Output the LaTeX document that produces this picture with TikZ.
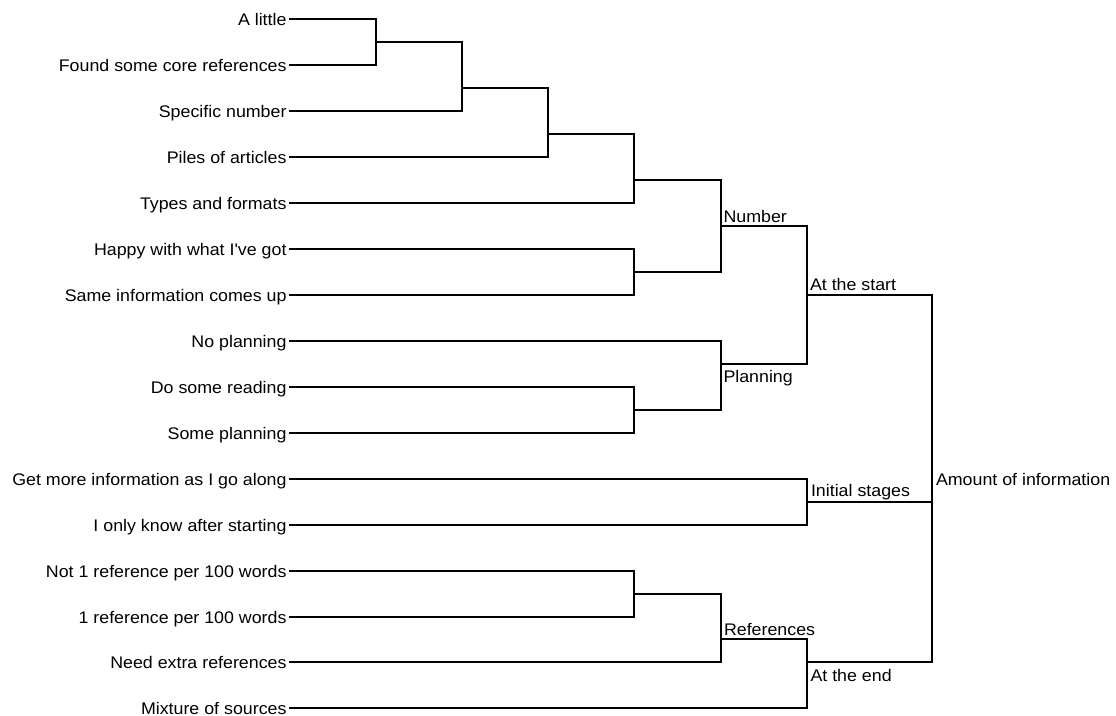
\documentclass[tikz,border=0pt]{standalone}
\usepackage{fontspec}
\usepackage{graphicx}
\setmainfont{Liberation Sans}
\begin{document}
\begin{tikzpicture}[x=1pt,y=-1pt,
  every path/.style={line width=2pt, line join=miter},
  txt/.style={inner sep=0pt, font=\fontsize{16.8}{18}\selectfont},
  leaf/.style={txt, anchor=east, inner xsep=1.5pt, text height=13pt, text depth=0pt},
  clabel/.style={txt, anchor=base west}]
\newcommand{\wtxt}[1]{\scalebox{1.06}[1]{#1}}
\useasboundingbox (0,0) rectangle (1116,715);

% leaves
\node[leaf] (t1)  at (289,19)  {\wtxt{A little}};
\node[leaf] (t2)  at (289,65)  {\wtxt{Found some core references}};
\node[leaf] (t3)  at (289,111) {\wtxt{Specific number}};
\node[leaf] (t4)  at (289,157) {\wtxt{Piles of articles}};
\node[leaf] (t5)  at (289,203) {\wtxt{Types and formats}};
\node[leaf] (t6)  at (289,249) {\wtxt{Happy with what I\textquotesingle ve got}};
\node[leaf] (t7)  at (289,295) {\wtxt{Same information comes up}};
\node[leaf] (t8)  at (289,341) {\wtxt{No planning}};
\node[leaf] (t9)  at (289,387) {\wtxt{Do some reading}};
\node[leaf] (t10) at (289,433) {\wtxt{Some planning}};
\node[leaf] (t11) at (289,479) {\wtxt{Get more information as I go along}};
\node[leaf] (t12) at (289,525) {\wtxt{I only know after starting}};
\node[leaf] (t13) at (289,571) {\wtxt{Not 1 reference per 100 words}};
\node[leaf] (t14) at (289,617) {\wtxt{1 reference per 100 words}};
\node[leaf] (t15) at (289,662) {\wtxt{Need extra references}};
\node[leaf] (t16) at (289,708) {\wtxt{Mixture of sources}};

% merge points
\coordinate (m1) at (376,42);
\coordinate (m2) at (462,88);
\coordinate (m3) at (548,134);
\coordinate (m4) at (634,180);
\coordinate (m5) at (634,272);
\coordinate (num) at (721,226);
\coordinate (m6) at (634,410);
\coordinate (plan) at (721,364);
\coordinate (start) at (807,295);
\coordinate (init) at (807,502);
\coordinate (m7) at (634,594);
\coordinate (refs) at (721,639);
\coordinate (fin) at (807,662);
\coordinate (root) at (932,480);

% brackets
\draw (t1.east) -| (m1) |- (t2.east);
\draw (m1) -| (m2) |- (t3.east);
\draw (m2) -| (m3) |- (t4.east);
\draw (m3) -| (m4) |- (t5.east);
\draw (t6.east) -| (m5) |- (t7.east);
\draw (m4) -| (num) |- (m5);
\draw (t9.east) -| (m6) |- (t10.east);
\draw (t8.east) -| (plan) |- (m6);
\draw (num) -| (start) |- (plan);
\draw (t11.east) -| (init) |- (t12.east);
\draw (t13.east) -| (m7) |- (t14.east);
\draw (m7) -| (refs) |- (t15.east);
\draw (refs) -| (fin) |- (t16.east);
\draw (start) -| (root) |- (fin);
\draw (init) -- (init -| root);

% cluster labels
\node[clabel] (lnum)   at (722.5,222.3) {\wtxt{Number}};
\node[clabel] (lstart) at (809,290)     {\wtxt{At the start}};
\node[clabel] (lplan)  at (722.5,382.7) {\wtxt{Planning}};
\node[clabel] (linit)  at (810,496.7)   {\wtxt{Initial stages}};
\node[clabel] (lrefs)  at (723,635)     {\wtxt{References}};
\node[clabel] (lfin)   at (809.5,681)   {\wtxt{At the end}};
\node[clabel] (lroot)  at (935,485)     {\wtxt{Amount of information}};
\end{tikzpicture}
\end{document}
